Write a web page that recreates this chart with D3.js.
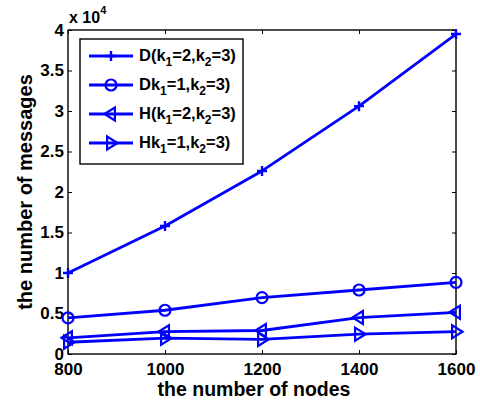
<!DOCTYPE html>
<html>
<head>
<meta charset="utf-8">
<script src="https://cdn.jsdelivr.net/npm/d3@7"></script>
<style>
  body { margin: 0; background: #fff; }
  svg { display: block; font-family: "Liberation Sans", Arial, sans-serif; font-weight: bold; }
</style>
</head>
<body>
<svg id="chart" width="480" height="402"></svg>
<script>
// Node counts on the x axis
const nodes = [800, 1000, 1200, 1400, 1600];
// Message counts per scheme
const seriesD   = [10000, 15800, 22600, 30600, 39500];
const seriesDk  = [4450, 5400, 6950, 7900, 8850];
const seriesH   = [2000, 2750, 2900, 4500, 5150];
const seriesHk  = [1450, 1950, 1800, 2450, 2750];
const xTicks = [800, 1000, 1200, 1400, 1600];
const yTicks = [0, 5000, 10000, 15000, 20000, 25000, 30000, 35000, 40000];
const yTickLabels = ["0", "0.5", "1", "1.5", "2", "2.5", "3", "3.5", "4"];

const series = [
  { name: ["D(k", "1", "=2,k", "2", "=3)"], values: seriesD, marker: "plus" },
  { name: ["Dk", "1", "=1,k", "2", "=3)"], values: seriesDk, marker: "circle" },
  { name: ["H(k", "1", "=2,k", "2", "=3)"], values: seriesH, marker: "left" },
  { name: ["Hk", "1", "=1,k", "2", "=3)"], values: seriesHk, marker: "right" }
];

const blue = "#0000ff";
const svg = d3.select("#chart");
const L = 68, R = 456, T = 30, B = 354;

const x = d3.scaleLinear().domain([800, 1600]).range([L, R]);
const y = d3.scaleLinear().domain([0, 40000]).range([B, T]);

// Axes with inward ticks, MATLAB box style
const tickLen = 4;
const gx = svg.append("g").attr("transform", `translate(0,${B})`)
  .call(d3.axisBottom(x).tickValues(xTicks).tickSizeInner(-tickLen).tickSizeOuter(0).tickPadding(9).tickFormat(d3.format("d")));
const gy = svg.append("g").attr("transform", `translate(${L},0)`)
  .call(d3.axisLeft(y).tickValues(yTicks).tickSizeInner(-tickLen).tickSizeOuter(0).tickPadding(4)
    .tickFormat((d, i) => yTickLabels[i]));
const gxTop = svg.append("g").attr("transform", `translate(0,${T})`)
  .call(d3.axisTop(x).tickValues(xTicks).tickSizeInner(-tickLen).tickSizeOuter(0).tickFormat(""));
const gyRight = svg.append("g").attr("transform", `translate(${R},0)`)
  .call(d3.axisRight(y).tickValues(yTicks).tickSizeInner(-tickLen).tickSizeOuter(0).tickFormat(""));

[gx, gy, gxTop, gyRight].forEach(g => {
  g.select(".domain").remove();
  g.selectAll("line").attr("stroke", "#000").attr("stroke-width", 1);
  g.selectAll("text").attr("fill", "#000").style("font-size", "17px").style("font-weight", "bold")
    .style("font-family", "'Liberation Sans', Arial, sans-serif");
});
gx.selectAll("text").attr("dy", "0.71em");
gy.selectAll("text").attr("dy", "0.3em");

svg.append("rect").attr("x", L).attr("y", T).attr("width", R - L).attr("height", B - T)
  .attr("fill", "none").attr("stroke", "#000").attr("stroke-width", 1.4);

// Exponent label
const expo = svg.append("text").attr("x", 69).attr("y", 23).attr("font-size", 16).attr("fill", "#000");
expo.append("tspan").text("x 10");
expo.append("tspan").attr("dy", -9).attr("font-size", 11).text("4");

// Axis titles
svg.append("text").attr("x", 254).attr("y", 396).attr("text-anchor", "middle")
  .attr("font-size", 19.5).attr("fill", "#000").text("the number of nodes");
svg.append("text").attr("transform", `translate(32,${(T + B) / 2}) rotate(-90)`).attr("text-anchor", "middle")
  .attr("font-size", 20).attr("fill", "#000").text("the number of messages");

// Marker drawing
function drawMarker(g, type, cx, cy) {
  if (type === "plus") {
    g.append("path").attr("d", `M${cx - 5},${cy}H${cx + 5}M${cx},${cy - 5}V${cy + 5}`)
      .attr("stroke", blue).attr("stroke-width", 2.4).attr("fill", "none");
  } else if (type === "circle") {
    g.append("circle").attr("cx", cx).attr("cy", cy).attr("r", 5.5)
      .attr("stroke", blue).attr("stroke-width", 2.2).attr("fill", "none");
  } else if (type === "left") {
    const s = 6.5;
    g.append("path").attr("d", `M${cx - s},${cy}L${cx + s * 0.6},${cy - s}L${cx + s * 0.6},${cy + s}Z`)
      .attr("stroke", blue).attr("stroke-width", 2.2).attr("fill", "none");
  } else if (type === "right") {
    const s = 6.5;
    g.append("path").attr("d", `M${cx + s},${cy}L${cx - s * 0.6},${cy - s}L${cx - s * 0.6},${cy + s}Z`)
      .attr("stroke", blue).attr("stroke-width", 2.2).attr("fill", "none");
  }
}

const line = d3.line().x((d, i) => x(nodes[i])).y(d => y(d));
const plot = svg.append("g");
series.forEach(s => {
  plot.append("path").datum(s.values).attr("d", line)
    .attr("fill", "none").attr("stroke", blue).attr("stroke-width", 2.8).attr("stroke-linejoin", "round");
  s.values.forEach((v, i) => drawMarker(plot, s.marker, x(nodes[i]), y(v)));
});

// Legend
const lg = svg.append("g");
lg.append("rect").attr("x", 80).attr("y", 39).attr("width", 163).attr("height", 125)
  .attr("fill", "#fff").attr("stroke", "#000").attr("stroke-width", 1.4);
series.forEach((s, i) => {
  const ly = 56 + i * 29;
  lg.append("line").attr("x1", 89).attr("x2", 133).attr("y1", ly).attr("y2", ly)
    .attr("stroke", blue).attr("stroke-width", 2.8);
  drawMarker(lg, s.marker, 111, ly);
  const t = lg.append("text").attr("x", 139).attr("y", ly + 5).attr("font-size", 16.5).attr("fill", "#000");
  s.name.forEach((part, j) => {
    if (j % 2 === 1) {
      t.append("tspan").attr("dy", 5).attr("font-size", 12).text(part);
    } else {
      const ts = t.append("tspan").text(part);
      if (j > 0) ts.attr("dy", -5);
    }
  });
});
</script>
</body>
</html>
